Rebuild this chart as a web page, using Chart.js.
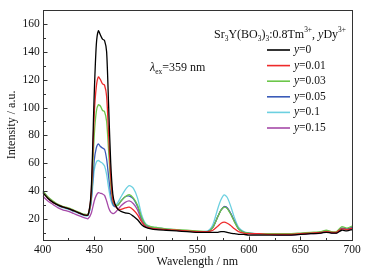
<!DOCTYPE html>
<html><head><meta charset="utf-8">
<script src="https://cdn.jsdelivr.net/npm/chart.js@4"></script>
<style>html,body{margin:0;padding:0;background:#fff}#wrap{width:368px;height:272px}</style>
</head><body><div id="wrap"><canvas id="c" width="368" height="272"></canvas></div>
<script>
const wavelengths = [400,405,410,415,420,425,430,435,440,444,447,450,452,454,456,458,460,462,464,466,468,470,473,476,480,484,488,492,496,500,505,510,520,530,540,550,560,565,570,573,576,579,582,586,590,595,600,610,620,630,640,650,660,670,675,680,685,690,695,700];
const yLevels = ['0','0.01','0.03','0.05','0.1','0.15'];
const seriesColors = ['#000000','#ee2a2a','#6cc64a','#3a5bb8','#6cd0e0','#a64aa8'];
const s_y0 = [39,35,32,30,28.5,27.5,26,24.5,23, 23,40,110,145,155,152,149,148,140,100,60,38,31, 27,25.5,24.5,24,22,19.5,16,14, 13,12.5,12,11.5,11,10.5,10.5, 10.5,10.5,11,11,10.5,10,9.5,9,9,8.5, 8.5,8.5,8.5,8.5,9,9.5,10,10.5,10,10,12,11.5,12.5];
const s_y001 = [39,35,32,30,28.5,27.5,26,24.5,23, 23,38,95,115,122,120,117,116,108,80,50,34,30, 27,27,28,28.5,26.5,23,18,14.5, 13.5,13,12.5,12,11.5,11,11, 12,15,17,17.8,17,15.5,13,11,10,9.5, 9.5,9,9,9,9.5,10,10.5,11,10.5,10.5,13,12.5,13.5];
const s_y003 = [40.5,36,33,30.5,29,28,26.5,25,23.5, 23.5,35,80,97,102,101,98,97,90,68,45,33,30, 30,33,36,37.5,35,30,21,16, 14.5,14,13,12.5,12,11.5,11, 14,22,26.5,28.5,27.5,24,18,13,10.5,10, 9.5,9.5,9.5,9.5,10,10.5,11,12,11,11,14.5,13.5,15];
const s_y005 = [40,35.5,32.5,30,28.5,27.5,26,24.5,23, 23,33,62,71,74,72,71,70,63,50,38,31,29, 30,33,36,36.5,34.5,29,20.5,15.5, 14,13.5,12.5,12,11.5,11,11, 14,22,26.5,28.8,28,24.5,18.5,13,10.5,10, 9.5,9,9,9,9.5,10,10.5,11.5,10.5,10.5,13.5,13,14];
const s_y01 = [39,35,32,29.5,28,27,25.5,24,22.5, 22.5,32,55,61,62,61,60,58,52,42,34,30,29, 32,36,41,44,42,35,23,16.5, 14.5,14,13,12,11.5,11,11.5, 16,28,34,37.3,35.5,30,21,14,11,10, 9.5,9,9,9,9.5,10,10.5,11.5,10.5,10.5,13.5,12.5,14];
const s_y015 = [36.5,33,30.5,28,26.5,25.5,24,22.5,21, 20.3,24,33,37,39,38.5,38,37,33,28,25,24,24.5, 27,29.5,32,33,31,26.5,19,14.5, 13.5,13,12.5,12,11.5,11,11, 14,22,26.5,29,28,24.5,18.5,13,10.5,9.5, 9,9,8.5,8.5,9,9.5,10,11,10,10,13,12.5,13];
const seriesValues = [s_y0,s_y001,s_y003,s_y005,s_y01,s_y015];
const xTicks = [400,450,500,550,600,650,700];
const xMinor = [425,475,525,575,625,675];
const yTicks = [20,40,60,80,100,120,140,160];
const yMinor = [10,30,50,70,90,110,130,150];
const xRange = [400,700];
const yRange = [5,170];

const SERIF = '"Liberation Serif","Times New Roman",serif';

function drawRich(ctx, x, y, segs, base) {
  let cx = x;
  for (const s of segs) {
    let size = base, dy = 0;
    if (s.sub) { size = base*0.62; dy = base*0.3; }
    if (s.sup) { size = base*0.62; dy = -base*0.38; }
    ctx.font = (s.it ? 'italic ' : '') + size + 'px ' + SERIF;
    ctx.fillText(s.t, cx, y + dy);
    cx += ctx.measureText(s.t).width;
  }
  return cx;
}

const decor = {
  id: 'decor',
  afterDatasetsDraw(chart) {
    const {ctx, chartArea: a, scales: {x, y}} = chart;
    ctx.save();
    ctx.strokeStyle = '#333';
    ctx.lineWidth = 1;
    ctx.strokeRect(Math.round(a.left)+0.5, Math.round(a.top)+0.5, Math.round(a.right-a.left), Math.round(a.bottom-a.top));
    ctx.beginPath();
    const b = Math.round(a.bottom)+0.5, l = Math.round(a.left)+0.5;
    xTicks.forEach(v => { const px = Math.round(x.getPixelForValue(v))+0.5; ctx.moveTo(px, b); ctx.lineTo(px, b-4); });
    xMinor.forEach(v => { const px = Math.round(x.getPixelForValue(v))+0.5; ctx.moveTo(px, b); ctx.lineTo(px, b-2.5); });
    yTicks.forEach(v => { const py = Math.round(y.getPixelForValue(v))+0.5; ctx.moveTo(l, py); ctx.lineTo(l+4, py); });
    yMinor.forEach(v => { const py = Math.round(y.getPixelForValue(v))+0.5; ctx.moveTo(l, py); ctx.lineTo(l+2.5, py); });
    ctx.stroke();

    ctx.fillStyle = '#111';
    ctx.textBaseline = 'middle';
    ctx.textAlign = 'left';
    drawRich(ctx, 214, 35, [
      {t:'Sr'},{t:'3',sub:1},{t:'Y(BO'},{t:'3',sub:1},{t:')'},{t:'3',sub:1},{t:':0.8Tm'},{t:'3+',sup:1},
      {t:', '},{t:'y',it:1},{t:'Dy'},{t:'3+',sup:1}
    ], 12);
    chart.data.datasets.forEach((ds, i) => {
      const cy = 50 + i*15.6;
      ctx.strokeStyle = ds.borderColor;
      ctx.lineWidth = 1.6;
      ctx.beginPath(); ctx.moveTo(267, cy); ctx.lineTo(290, cy); ctx.stroke();
      ctx.fillStyle = '#111';
      drawRich(ctx, 294, cy, [{t:'y',it:1},{t:'=' + yLevels[i]}], 11.5);
    });
    ctx.fillStyle = '#111';
    drawRich(ctx, 150, 68, [{t:'λ',it:1},{t:'ex',sub:1},{t:'=359 nm'}], 12);
    ctx.restore();
  }
};

new Chart(document.getElementById('c'), {
  type: 'line',
  data: {
    datasets: seriesValues.map((vals, i) => ({
      label: 'y=' + yLevels[i],
      data: wavelengths.map((w, k) => ({x: w, y: vals[k]})),
      borderColor: seriesColors[i],
      backgroundColor: seriesColors[i],
      borderWidth: 1.3,
      pointRadius: 0,
      tension: 0.25,
      fill: false
    }))
  },
  options: {
    responsive: false,
    animation: false,
    layout: {padding: {top: 9.5, right: 16, left: 0, bottom: 0}},
    plugins: {legend: {display: false}, tooltip: {enabled: false}},
    scales: {
      x: {
        type: 'linear', min: xRange[0], max: xRange[1],
        afterBuildTicks: s => { s.ticks = xTicks.map(v => ({value: v})); },
        afterFit: s => { s.height = 32; },
        grid: {display: false, drawTicks: false},
        border: {display: false},
        ticks: {padding: 3, color: '#111', font: {family: SERIF, size: 11.5}, maxRotation: 0},
        title: {display: true, text: 'Wavelength / nm', color: '#111', font: {family: SERIF, size: 12}, padding: {top: 0, bottom: 3}}
      },
      y: {
        type: 'linear', min: yRange[0], max: yRange[1],
        afterBuildTicks: s => { s.ticks = yTicks.map(v => ({value: v})); },
        afterFit: s => { s.width = 42.7; },
        grid: {display: false, drawTicks: false},
        border: {display: false},
        ticks: {padding: 3, color: '#111', font: {family: SERIF, size: 11.5}},
        title: {display: true, text: 'Intensity / a.u.', color: '#111', font: {family: SERIF, size: 12}, padding: {top: 5, bottom: 0}}
      }
    }
  },
  plugins: [decor]
});
</script>
</body></html>
